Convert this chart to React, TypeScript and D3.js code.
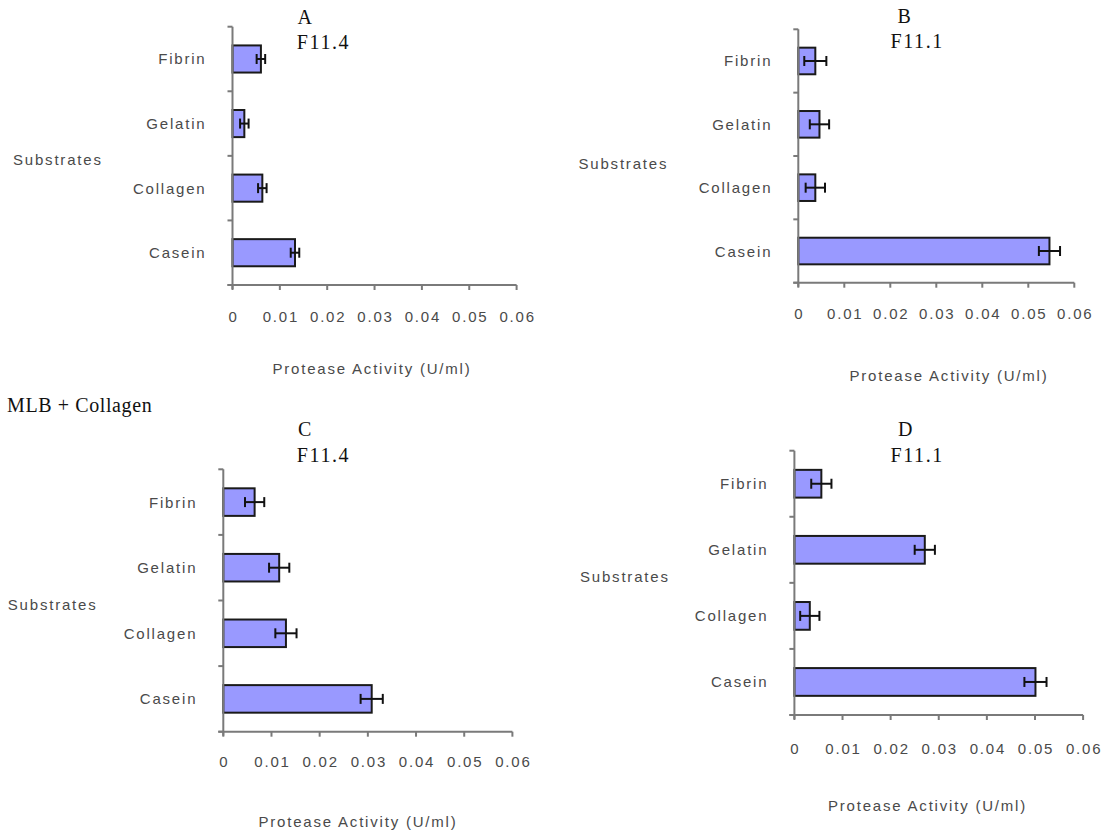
import React from "react";
import * as d3 from "d3";

// ---- data ----
const categories = ["Fibrin", "Gelatin", "Collagen", "Casein"];
const xTicks = [0, 0.01, 0.02, 0.03, 0.04, 0.05, 0.06];
const xTickLabels = ["0", "0.01", "0.02", "0.03", "0.04", "0.05", "0.06"];

const valuesA = [0.006, 0.0025, 0.0063, 0.0132];
const errorsA = [0.0009, 0.0009, 0.0009, 0.0009];
const valuesB = [0.0037, 0.0046, 0.0037, 0.0546];
const errorsB = [0.0024, 0.0021, 0.0021, 0.0023];
const valuesC = [0.0065, 0.0116, 0.013, 0.0308];
const errorsC = [0.002, 0.0021, 0.0022, 0.0023];
const valuesD = [0.0056, 0.0271, 0.0032, 0.0501];
const errorsD = [0.0021, 0.0021, 0.002, 0.0023];

const panelLetters = ["A", "B", "C", "D"];
const panelStrains = ["F11.4", "F11.1", "F11.4", "F11.1"];
const xAxisTitle = "Protease Activity (U/ml)";
const yAxisTitle = "Substrates";
const sectionLabel = "MLB + Collagen";

// ---- layout ----
const layouts = [
  { x0: 232.5, x1: 516.6, yTop: 26.7, yBot: 285, letterX: 297.5, letterY: 24, strainX: 296.8, strainY: 49.3, subX: 13, subY: 159, titleX: 372, titleY: 368, tickY: 316.5 },
  { x0: 798.3, x1: 1074.3, yTop: 29.3, yBot: 282.7, letterX: 897.6, letterY: 23.3, strainX: 890.5, strainY: 48.3, subX: 578.5, subY: 163.3, titleX: 949, titleY: 375, tickY: 313.5 },
  { x0: 223.3, x1: 512.4, yTop: 469.3, yBot: 731.7, letterX: 297.9, letterY: 436, strainX: 296.8, strainY: 461.7, subX: 7.8, subY: 604, titleX: 358, titleY: 821.7, tickY: 761.7 },
  { x0: 794.4, x1: 1083.1, yTop: 450.7, yBot: 715, letterX: 898, letterY: 436, strainX: 890.5, strainY: 462, subX: 580, subY: 576.7, titleX: 927.5, titleY: 805, tickY: 748.3 },
];

const panelsData = [
  { values: valuesA, errors: errorsA },
  { values: valuesB, errors: errorsB },
  { values: valuesC, errors: errorsC },
  { values: valuesD, errors: errorsD },
];

const SANS = "'Liberation Sans', Arial, Helvetica, sans-serif";
const SERIF = "'Liberation Serif', 'Times New Roman', serif";
const TEXT_GRAY = "#4a4a4a";
const AXIS_GRAY = "#7a7a7a";
const BAR_FILL = "#9999ff";

function Panel({ i }: { i: number }) {
  const L = layouts[i];
  const { values, errors } = panelsData[i];
  const x = d3.scaleLinear().domain([0, 0.06]).range([L.x0, L.x1]);
  const y = d3
    .scaleBand<string>()
    .domain(categories)
    .range([L.yTop, L.yBot])
    .paddingInner(0.58)
    .paddingOuter(0.29);
  const step = y.step();
  const boundaries = d3.range(categories.length + 1).map((k) => L.yTop + k * step);
  const cap = 5;

  return (
    <g>
      {/* titles */}
      <text x={L.letterX} y={L.letterY} fontFamily={SERIF} fontSize={20} letterSpacing={1.2} fill="#111">
        {panelLetters[i]}
      </text>
      <text x={L.strainX} y={L.strainY} fontFamily={SERIF} fontSize={20} letterSpacing={1.6} fill="#111">
        {panelStrains[i]}
      </text>
      {/* y axis title */}
      <text x={L.subX} y={L.subY} dominantBaseline="central" fontFamily={SANS} fontSize={15} letterSpacing={1.8} fill={TEXT_GRAY}>
        {yAxisTitle}
      </text>
      {/* bars */}
      {categories.map((c, k) => (
        <rect
          key={c}
          x={x(0)}
          y={y(c)!}
          width={x(values[k]) - x(0)}
          height={y.bandwidth()}
          fill={BAR_FILL}
          stroke="#1a1a1a"
          strokeWidth={2}
        />
      ))}
      {/* error bars */}
      {categories.map((c, k) => {
        const cy = y(c)! + y.bandwidth() / 2;
        const lo = x(values[k] - errors[k]);
        const hi = x(values[k] + errors[k]);
        return (
          <g key={"e" + c} stroke="#111" strokeWidth={2}>
            <line x1={lo} x2={hi} y1={cy} y2={cy} />
            <line x1={lo} x2={lo} y1={cy - cap} y2={cy + cap} />
            <line x1={hi} x2={hi} y1={cy - cap} y2={cy + cap} />
          </g>
        );
      })}
      {/* y axis */}
      <line x1={L.x0} x2={L.x0} y1={L.yTop} y2={L.yBot + 4} stroke={AXIS_GRAY} strokeWidth={2} />
      {boundaries.map((b, k) => (
        <line key={"yt" + k} x1={L.x0 - 5} x2={L.x0} y1={b} y2={b} stroke={AXIS_GRAY} strokeWidth={2} />
      ))}
      {categories.map((c) => (
        <text
          key={"yl" + c}
          x={L.x0 - 26}
          y={y(c)! + y.bandwidth() / 2}
          textAnchor="end"
          dominantBaseline="central"
          fontFamily={SANS}
          fontSize={15}
          letterSpacing={1.8}
          fill={TEXT_GRAY}
        >
          {c}
        </text>
      ))}
      {/* x axis */}
      <line x1={L.x0 - 5} x2={L.x1} y1={L.yBot} y2={L.yBot} stroke={AXIS_GRAY} strokeWidth={2} />
      {xTicks.map((t, k) => (
        <g key={"xt" + k}>
          <line x1={x(t)} x2={x(t)} y1={L.yBot} y2={L.yBot + 5} stroke={AXIS_GRAY} strokeWidth={2} />
          <text
            x={x(t) + 1}
            y={L.tickY}
            textAnchor="middle"
            dominantBaseline="central"
            fontFamily={SANS}
            fontSize={15}
            letterSpacing={1.8}
            fill={TEXT_GRAY}
          >
            {xTickLabels[k]}
          </text>
        </g>
      ))}
      <text
        x={L.titleX}
        y={L.titleY}
        textAnchor="middle"
        dominantBaseline="central"
        fontFamily={SANS}
        fontSize={15}
        letterSpacing={1.8}
        fill={TEXT_GRAY}
      >
        {xAxisTitle}
      </text>
    </g>
  );
}

export default function App() {
  return (
    <svg
      width={1104}
      height={832}
      viewBox="0 0 1104 832"
      style={{ position: "absolute", left: 0, top: 0, background: "#fff" }}
    >
      <rect x={0} y={0} width={1104} height={832} fill="#fff" />
      {[0, 1, 2, 3].map((i) => (
        <Panel key={i} i={i} />
      ))}
      <text x={7} y={411.7} fontFamily={SERIF} fontSize={20} letterSpacing={0.6} fill="#111" style={{ whiteSpace: "pre" }}>
        {sectionLabel}
      </text>
    </svg>
  );
}
